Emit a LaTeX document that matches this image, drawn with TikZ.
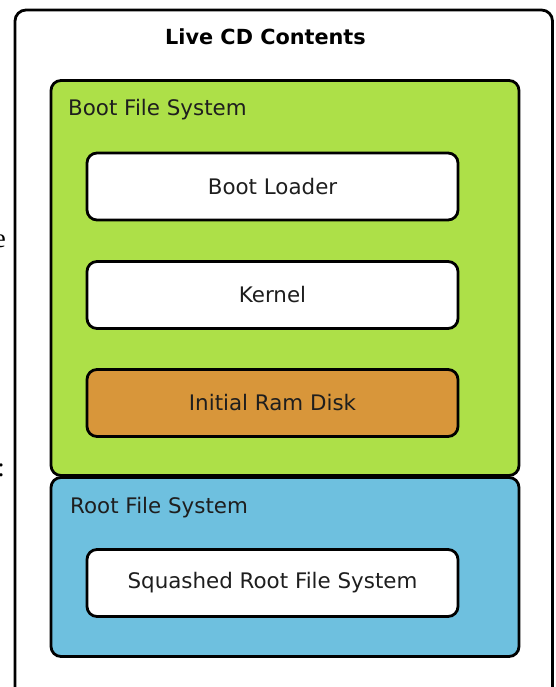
\documentclass[tikz,border=0pt]{standalone}
\usepackage{fontspec}
\setmainfont{DejaVu Sans}
\newfontfamily\serifstray{Liberation Serif}
\definecolor{bootgreen}{RGB}{173,224,72}
\definecolor{rootblue}{RGB}{110,192,223}
\definecolor{ramorange}{RGB}{216,150,58}
\definecolor{txt}{RGB}{30,30,30}
\tikzset{
  box/.style={draw=black, line width=2.8pt, rounded corners=10pt, inner sep=0pt},
  item/.style={box, fill=white, minimum width=371pt, minimum height=67pt, font=\fontsize{21.4}{25}\selectfont, text=txt},
  lbl/.style={anchor=west, inner sep=0pt, font=\fontsize{21.4}{25}\selectfont, text=txt},
}
\begin{document}
\begin{tikzpicture}[x=1pt,y=-1pt]
\useasboundingbox (0,0) rectangle (556,687);
% stray fragments from the surrounding page
\node[anchor=east, inner sep=0pt, font=\serifstray\fontsize{27}{30}\selectfont] (frag1) at (6,241) {e};
\node[anchor=east, inner sep=0pt, font=\serifstray\fontsize{27}{30}\selectfont] (frag2) at (5,470) {:};
% outer box
\draw[line width=2.8pt, rounded corners=11pt] (15,10) rectangle (552.5,720);
\node[inner sep=0pt, font=\bfseries\fontsize{20.8}{25}\selectfont] (title) at (265.5,37) {Live CD Contents};
% containers
\node[box, fill=bootgreen, minimum width=468pt, minimum height=395pt] (bootfs) at (285,278) {};
\node[box, fill=rootblue, minimum width=468pt, minimum height=179pt] (rootfs) at (285,567) {};
\node[lbl] (bootlbl) at (68,110) {Boot File System};
\node[lbl] (rootlbl) at (70,507.5) {Root File System};
% items
\node[item] (loader) at (272.5,186.5) {Boot Loader};
\node[item] (kernel) at (272.5,295) {Kernel};
\node[item, fill=ramorange] (initrd) at (272.5,403) {Initial Ram Disk};
\node[item] (squash) at (272.5,583) {Squashed Root File System};
\end{tikzpicture}
\end{document}
